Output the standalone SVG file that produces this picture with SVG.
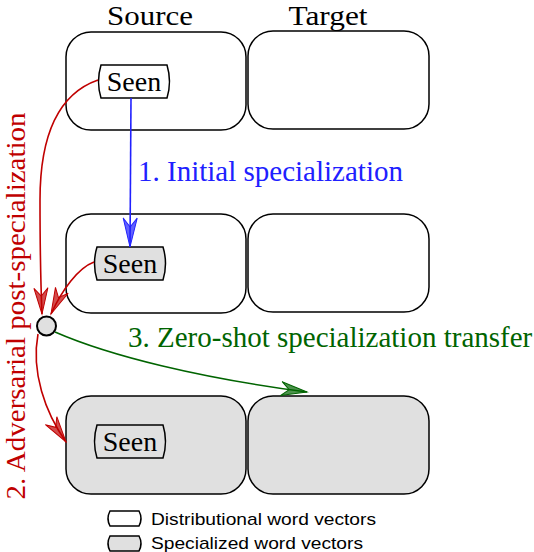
<svg xmlns="http://www.w3.org/2000/svg" width="534" height="552" viewBox="0 0 534 552">
<style>
.box{fill:#fff;stroke:#000;stroke-width:1.5}
.seen{fill:#fff;stroke:#000;stroke-width:1.5}
.box.spec,.seen.spec{fill:#e0e0e0}
.serif{font-family:"Liberation Serif","Times New Roman",serif}
.lbl{font-size:28px;fill:#000;text-anchor:middle}
.hdr{font-size:28px;fill:#000;text-anchor:middle}
.leg{font-family:"Liberation Sans",Arial,sans-serif;font-size:17px;fill:#000}
.red{fill:none;stroke:#c00000;stroke-width:1.6}
.blue{fill:none;stroke:#2020ff;stroke-width:1.6}
.green{fill:none;stroke:#006400;stroke-width:1.6}
</style>
<defs>
<marker id="ar" markerUnits="userSpaceOnUse" viewBox="-28 -9 30 18" refX="0" refY="0" markerWidth="30" markerHeight="18" orient="auto"><path d="M0,0 L-26,-7 L-18,0 L-26,7 Z" fill="#c00000" fill-opacity="0.7" stroke="#c00000" stroke-width="1"/></marker>
<marker id="ab" markerUnits="userSpaceOnUse" viewBox="-30 -9 32 18" refX="0" refY="0" markerWidth="32" markerHeight="18" orient="auto"><path d="M0,0 L-29,-7 L-20,0 L-29,7 Z" fill="#2020ff" fill-opacity="0.7" stroke="#2020ff" stroke-width="1"/></marker>
<marker id="ag" markerUnits="userSpaceOnUse" viewBox="-28 -9 30 18" refX="0" refY="0" markerWidth="30" markerHeight="18" orient="auto"><path d="M0,0 L-26,-7 L-18,0 L-26,7 Z" fill="#006400" fill-opacity="0.7" stroke="#006400" stroke-width="1"/></marker>
</defs>

<text class="serif hdr" x="150" y="25" textLength="86" lengthAdjust="spacingAndGlyphs">Source</text>
<text class="serif hdr" x="328" y="25" textLength="79" lengthAdjust="spacingAndGlyphs">Target</text>

<g id="src1"><rect class="box" x="66" y="32" width="180" height="98" rx="25"/></g>
<g id="tgt1"><rect class="box" x="248" y="31" width="181" height="98" rx="25"/></g>
<g id="src2"><rect class="box" x="66" y="214" width="180" height="99" rx="25"/></g>
<g id="tgt2"><rect class="box" x="248" y="214" width="181" height="98" rx="25"/></g>
<g id="src3"><rect class="box spec" x="66" y="396" width="180" height="98" rx="25"/></g>
<g id="tgt3"><rect class="box spec" x="248" y="396" width="181" height="98" rx="25"/></g>

<g id="seen1"><path class="seen" d="M101,65 H167 Q172,81.5 167,98 H101 Q96,81.5 101,65 Z"/><text class="serif lbl" x="134" y="91">Seen</text></g>
<g id="seen2"><path class="seen spec" d="M97,247 H163 Q168,263.5 163,280 H97 Q92,263.5 97,247 Z"/><text class="serif lbl" x="130" y="273">Seen</text></g>
<g id="seen3"><path class="seen spec" d="M97,425 H163 Q168,441.5 163,458 H97 Q92,441.5 97,425 Z"/><text class="serif lbl" x="130" y="451">Seen</text></g>

<g id="connectors">
<path class="blue" d="M131,98 L130,247" marker-end="url(#ab)"/>
<path class="red" d="M98,80 C55,95 40,140 40,200 C40,250 41,290 42,314" marker-end="url(#ar)"/>
<path class="red" d="M94,262 C78,268 62,290 51,314" marker-end="url(#ar)"/>
<path class="red" d="M38,334 C31,372 45,412 66,442" marker-end="url(#ar)"/>
<path class="green" d="M55,332 C110,356 200,378 307,392" marker-end="url(#ag)"/>
</g>

<g id="hub"><circle cx="46.5" cy="326" r="9.5" fill="#e0e0e0" stroke="#000" stroke-width="2"/></g>

<text class="serif" x="138" y="181" font-size="29" fill="#2020ff">1. Initial specialization</text>
<text class="serif" x="128" y="347" font-size="29" fill="#006400">3. Zero-shot specialization transfer</text>
<text class="serif" transform="translate(25,306) rotate(-90)" text-anchor="middle" font-size="28" textLength="387" lengthAdjust="spacingAndGlyphs" fill="#c00000">2. Adversarial post-specialization</text>

<g id="legend">
<path class="seen" d="M110,511 H139 Q143,518.5 139,526 H110 Q106,518.5 110,511 Z"/>
<text class="leg" x="151" y="525" textLength="225" lengthAdjust="spacingAndGlyphs">Distributional word vectors</text>
<path class="seen spec" d="M110,536 H139 Q143,543.5 139,551 H110 Q106,543.5 110,536 Z"/>
<text class="leg" x="151" y="549" textLength="212" lengthAdjust="spacingAndGlyphs">Specialized word vectors</text>
</g>
</svg>
